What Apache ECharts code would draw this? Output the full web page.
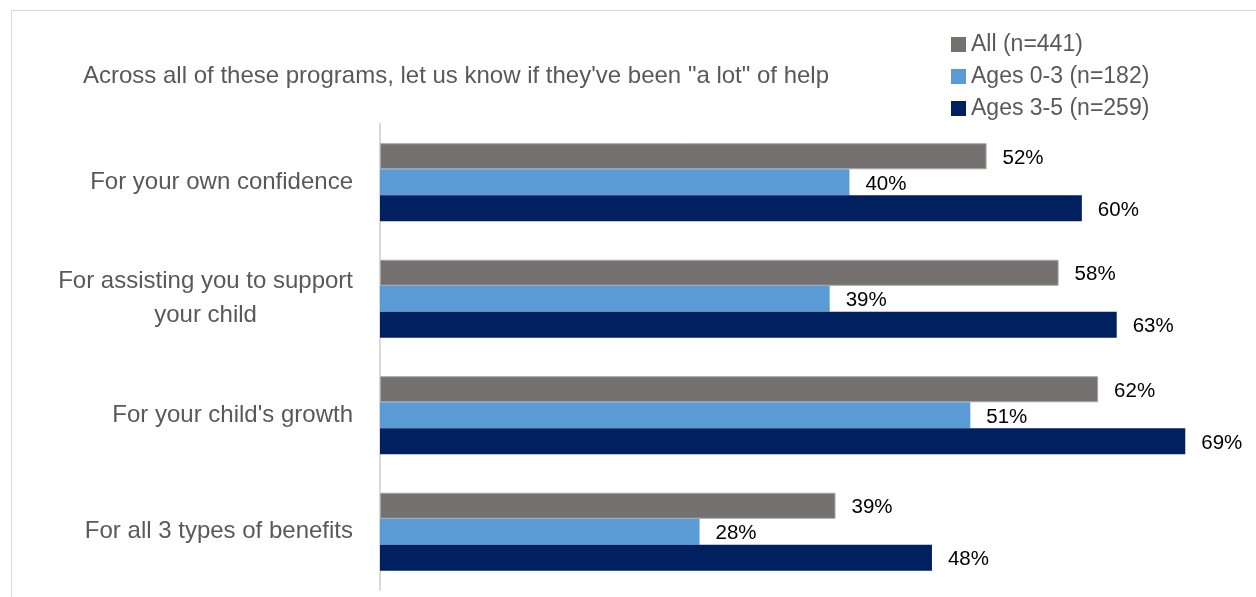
<!DOCTYPE html>
<html>
<head>
<meta charset="utf-8">
<script src="https://cdn.jsdelivr.net/npm/echarts@6/dist/echarts.min.js"></script>
<style>
html,body{margin:0;padding:0;background:#fff;}
#chart{width:1256px;height:597px;}
</style>
</head>
<body>
<div id="chart"></div>
<script>
const categories = ["For your own confidence", "For assisting you to support\nyour child", "For your child's growth", "For all 3 types of benefits"];
const seriesNames = ["All (n=441)", "Ages 0-3 (n=182)", "Ages 3-5 (n=259)"];
const allValues = [52.2, 58.4, 61.8, 39.2];
const ages03Values = [40.4, 38.7, 50.8, 27.5];
const ages35Values = [60.4, 63.4, 69.3, 47.5];
const titleText = "Across all of these programs, let us know if they've been \"a lot\" of help";

const FONT = "'Liberation Sans Narrow', 'Arial Narrow', 'Liberation Sans', sans-serif";
const colors = ['#767171', '#5b9bd5', '#002060'];
const borders = ['#a5a5a5', '#5b9bd5', '#2f4f8f'];

const chart = echarts.init(document.getElementById('chart'));
function mk(i, data) {
  return {
    name: seriesNames[i], type: 'bar', data: data, barWidth: 26, barGap: '0%',
    itemStyle: {color: colors[i], borderColor: borders[i], borderWidth: i === 0 ? 1 : 0},
    label: {show: true, position: 'right', distance: 16, offset: [0, 2],
      formatter: p => Math.round(p.value) + '%',
      color: '#000', fontFamily: FONT, fontSize: 20.5},
    emphasis: {disabled: true}
  };
}
chart.setOption({
  animation: false,
  textStyle: {fontFamily: FONT},
  title: {text: titleText, left: 78, top: 59,
    textStyle: {fontFamily: FONT, fontSize: 24, fontWeight: 'normal', color: '#595959'}},
  legend: {orient: 'vertical', left: 946, top: 28, icon: 'rect', itemWidth: 15, itemHeight: 15, itemGap: 9,
    data: seriesNames,
    itemStyle: {borderWidth: 0},
    textStyle: {fontFamily: FONT, fontSize: 23, color: '#595959'}},
  graphic: [
    {type: 'line', shape: {x1: 11, y1: 10.5, x2: 1256, y2: 10.5}, style: {stroke: '#d9d9d9', lineWidth: 1}},
    {type: 'line', shape: {x1: 11.5, y1: 10, x2: 11.5, y2: 597}, style: {stroke: '#d9d9d9', lineWidth: 1}}
  ],
  grid: {left: 380, top: 124, height: 466, width: 813.4, containLabel: false},
  xAxis: {type: 'value', min: 0, max: 70, show: false},
  yAxis: {type: 'category', data: categories, inverse: true,
    axisLine: {show: true, lineStyle: {color: '#d9d9d9', width: 2}},
    axisTick: {show: false},
    axisLabel: {margin: 27, align: 'right',
      formatter: v => v.split('\n').map(s => '{c|' + s + '}').join('\n'),
      rich: {c: {fontFamily: FONT, fontSize: 24, color: '#595959', align: 'center', lineHeight: 34}}}},
  series: [
    mk(0, allValues),
    mk(1, ages03Values),
    mk(2, ages35Values)
  ]
});
</script>
</body>
</html>
